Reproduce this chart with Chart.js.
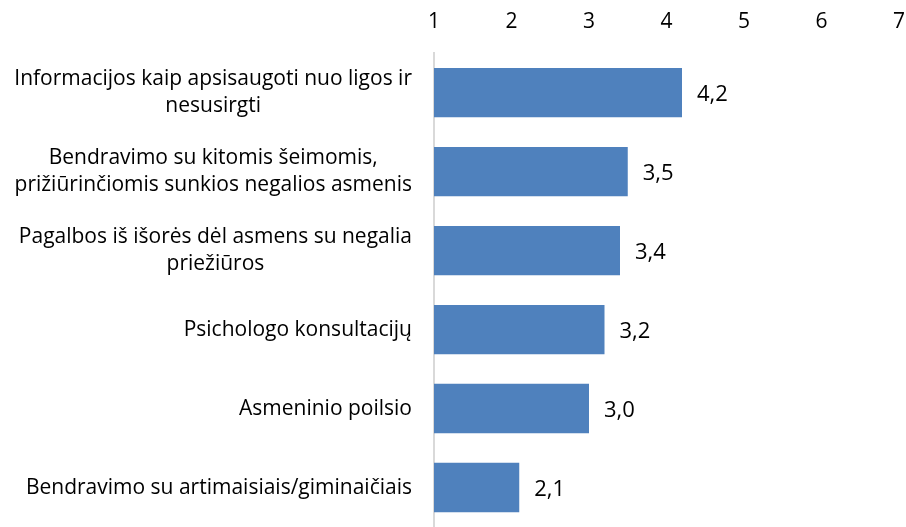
<!DOCTYPE html>
<html>
<head>
<meta charset="utf-8">
<script src="https://cdn.jsdelivr.net/npm/chart.js@4"></script>
<style>
    body { margin: 0; background: #fff; }
    #wrap { width: 906px; height: 527px; }
</style>
</head>
<body>
<div id="wrap"><canvas id="barChart"></canvas></div>
<script>
const categories = [
    ["Informacijos kaip apsisaugoti nuo ligos ir", "nesusirgti"],
    ["Bendravimo su kitomis šeimomis,", "prižiūrinčiomis sunkios negalios asmenis"],
    ["Pagalbos iš išorės dėl asmens su negalia", "priežiūros"],
    ["Psichologo konsultacijų"],
    ["Asmeninio poilsio"],
    ["Bendravimo su artimaisiais/giminaičiais"],
];
const values = [4.2, 3.5, 3.4, 3.2, 3.0, 2.1];
const tickValues = [1, 2, 3, 4, 5, 6, 7];

const labelFont = '21px "Open Sans", sans-serif';

// y labels: block right aligned, lines centered inside the block
const categoryLabels = {
    id: "categoryLabels",
    afterDraw(chart) {
        const ctx = chart.ctx;
        const yScale = chart.scales.y;
        const right = chart.chartArea.left - 22;
        const lineH = 27;
        ctx.save();
        ctx.font = labelFont;
        ctx.fillStyle = "#000";
        ctx.textAlign = "center";
        ctx.textBaseline = "middle";
        categories.forEach((lines, i) => {
            const y = yScale.getPixelForValue(i);
            const w = Math.max(...lines.map((l) => ctx.measureText(l).width));
            const cx = right - w / 2;
            const y0 = y - ((lines.length - 1) * lineH) / 2;
            lines.forEach((l, j) => ctx.fillText(l, cx, y0 + j * lineH));
        });
        ctx.restore();
    },
};

const valueLabels = {
    id: "valueLabels",
    afterDatasetsDraw(chart) {
        const ctx = chart.ctx;
        const meta = chart.getDatasetMeta(0);
        ctx.save();
        ctx.font = '22px "Open Sans", sans-serif';
        ctx.fillStyle = "#000";
        ctx.textAlign = "left";
        ctx.textBaseline = "middle";
        meta.data.forEach((bar, i) => {
            ctx.fillText(values[i].toFixed(1).replace(".", ","), bar.x + 15, bar.y + 2);
        });
        ctx.restore();
    },
};

new Chart(document.getElementById("barChart"), {
    type: "bar",
    data: {
        labels: categories.map((c) => c.join(" ")),
        datasets: [
            {
                data: values,
                backgroundColor: "#4f81bd",
                barPercentage: 0.625,
                categoryPercentage: 1,
            },
        ],
    },
    options: {
        indexAxis: "y",
        responsive: true,
        maintainAspectRatio: false,
        animation: false,
        layout: { padding: { left: 426, right: 7, top: -2, bottom: -3 } },
        plugins: {
            legend: { display: false },
            tooltip: { enabled: false },
        },
        scales: {
            x: {
                position: "top",
                min: 1,
                max: 7,
                afterBuildTicks: (axis) => {
                    axis.ticks = tickValues.map((v) => ({ value: v }));
                },
                afterFit: (axis) => {
                    axis.paddingRight = 0;
                },
                grid: { display: false },
                border: { display: false },
                ticks: {
                    color: "#000",
                    font: { family: "Open Sans", size: 21 },
                    padding: 11,
                },
            },
            y: {
                grid: { display: false },
                border: { display: true, color: "#d9d9d9", width: 2 },
                ticks: { display: false },
            },
        },
    },
    plugins: [categoryLabels, valueLabels],
});
</script>
</body>
</html>
